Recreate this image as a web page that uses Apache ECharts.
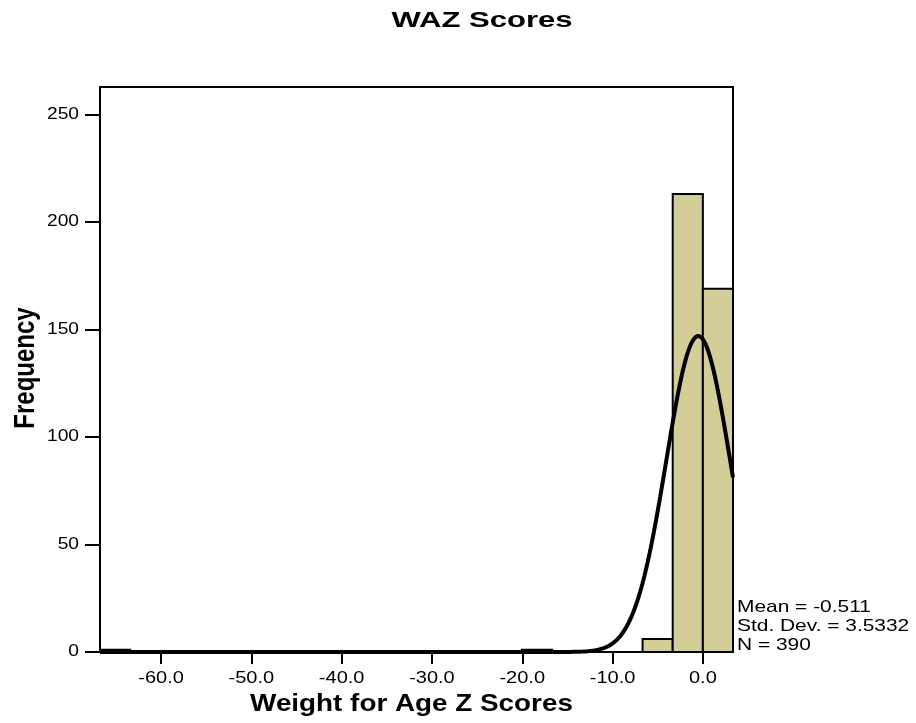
<!DOCTYPE html>
<html><head><meta charset="utf-8">
<script src="https://cdn.jsdelivr.net/npm/echarts@6/dist/echarts.min.js"></script>
<style>html,body{margin:0;padding:0;background:#fff}#c{width:916px;height:723px}</style>
</head><body><div id="c"></div>
<script>
// Histogram bins (21 bins of equal width)
const binStart = -66.76;
const binWidth = 3.338;
const binCounts = [1,0,0,0,0,0,0,0,0,0,0,0,0,0,1,0,0,0,6,213,169];
// Summary statistics shown in the chart
const statMean = -0.511;
const statSD = 3.5332;
const statN = 390;
const statLines = ['Mean = -0.511', 'Std. Dev. = 3.5332', 'N = 390'];
// Tick labels
const xTicks = [-60,-50,-40,-30,-20,-10,0];
const yTicks = [0,50,100,150,200,250];
const titleText = 'WAZ Scores';
const xName = 'Weight for Age Z Scores';
const yName = 'Frequency';

const FONTF = '"Liberation Sans", Arial, sans-serif';
const barData = binCounts.map((c,i)=>[binStart+i*binWidth, binStart+(i+1)*binWidth, c]).filter(d=>d[2]>0);
const xMin = binStart, xMax = binStart + binCounts.length*binWidth;
// Fitted normal curve from stated mean / SD / N
const curve = [];
for (let i=0;i<=600;i++){
  const x = xMin + (xMax-xMin)*i/600;
  const z = (x-statMean)/statSD;
  curve.push([x, statN*binWidth/(statSD*Math.sqrt(2*Math.PI))*Math.exp(-0.5*z*z)]);
}

const chart = echarts.init(document.getElementById('c'), null, {renderer:'canvas'});
chart.setOption({
  animation:false,
  backgroundColor:'#fff',
  grid:{left:100, right:183, top:87, bottom:71, show:true, borderColor:'#000', borderWidth:2, backgroundColor:'#fff'},
  xAxis:{type:'value', min:xMin, max:xMax,
    axisLine:{show:true,onZero:false,lineStyle:{color:'#000',width:2}},
    axisTick:{show:true,inside:false,length:12,lineStyle:{color:'#000',width:2},customValues:xTicks},
    axisLabel:{show:false,customValues:xTicks},
    splitLine:{show:false}},
  yAxis:{type:'value', min:0, max:262.8,
    axisLine:{show:true,onZero:false,lineStyle:{color:'#000',width:2}},
    axisTick:{show:true,inside:false,length:15,lineStyle:{color:'#000',width:2},customValues:yTicks},
    axisLabel:{show:false,customValues:yTicks},
    splitLine:{show:false}},
  series:[
    {type:'custom', data:barData, clip:true,
     encode:{x:[0,1],y:2},
     renderItem:function(params, api){
       const p0 = api.coord([api.value(0), 0]);
       const p1 = api.coord([api.value(1), api.value(2)]);
       return {type:'rect', shape:{x:p0[0], y:p1[1], width:p1[0]-p0[0], height:p0[1]-p1[1]},
         style:{fill:'#d3cd97', stroke:'#000', lineWidth:2}};
     }},
    {type:'line', data:curve, showSymbol:false, symbol:'none', clip:true,
     lineStyle:{color:'#000', width:4}, z:5}
  ]
});

// Stretched text (reference typography is horizontally wide)
const g = [];
function txt(text, x, y, font, opt){
  g.push(Object.assign({type:'text', x:x, y:y, z:100,
    style:{text:text, font:font, fill:'#000', align:'center', verticalAlign:'middle'}}, opt||{}));
}
const tickFont = '16px ' + FONTF;
xTicks.forEach(v=>{
  const p = chart.convertToPixel({gridIndex:0}, [v, 0]);
  txt(v.toFixed(1), p[0], 679, tickFont, {scaleX:1.25});
});
yTicks.forEach(v=>{
  const p = chart.convertToPixel({gridIndex:0}, [xMin, v]);
  g.push({type:'text', x:79, y:p[1], z:100, scaleX:1.2,
    style:{text:String(v), font:tickFont, fill:'#000', align:'right', verticalAlign:'middle'}});
});
txt(titleText, 482, 21, 'bold 22px ' + FONTF, {scaleX:1.41});
txt(xName, 411.5, 704, 'bold 24px ' + FONTF, {scaleX:1.16});
txt(yName, 26, 368, 'bold 24px ' + FONTF, {rotation:Math.PI/2, scaleY:1.25});
statLines.forEach((s,i)=>{
  g.push({type:'text', x:737, y:607+i*19.2, z:100, scaleX:1.23,
    style:{text:s, font:'17px ' + FONTF, fill:'#000', align:'left', verticalAlign:'middle'}});
});
chart.setOption({graphic:g});
</script></body></html>
